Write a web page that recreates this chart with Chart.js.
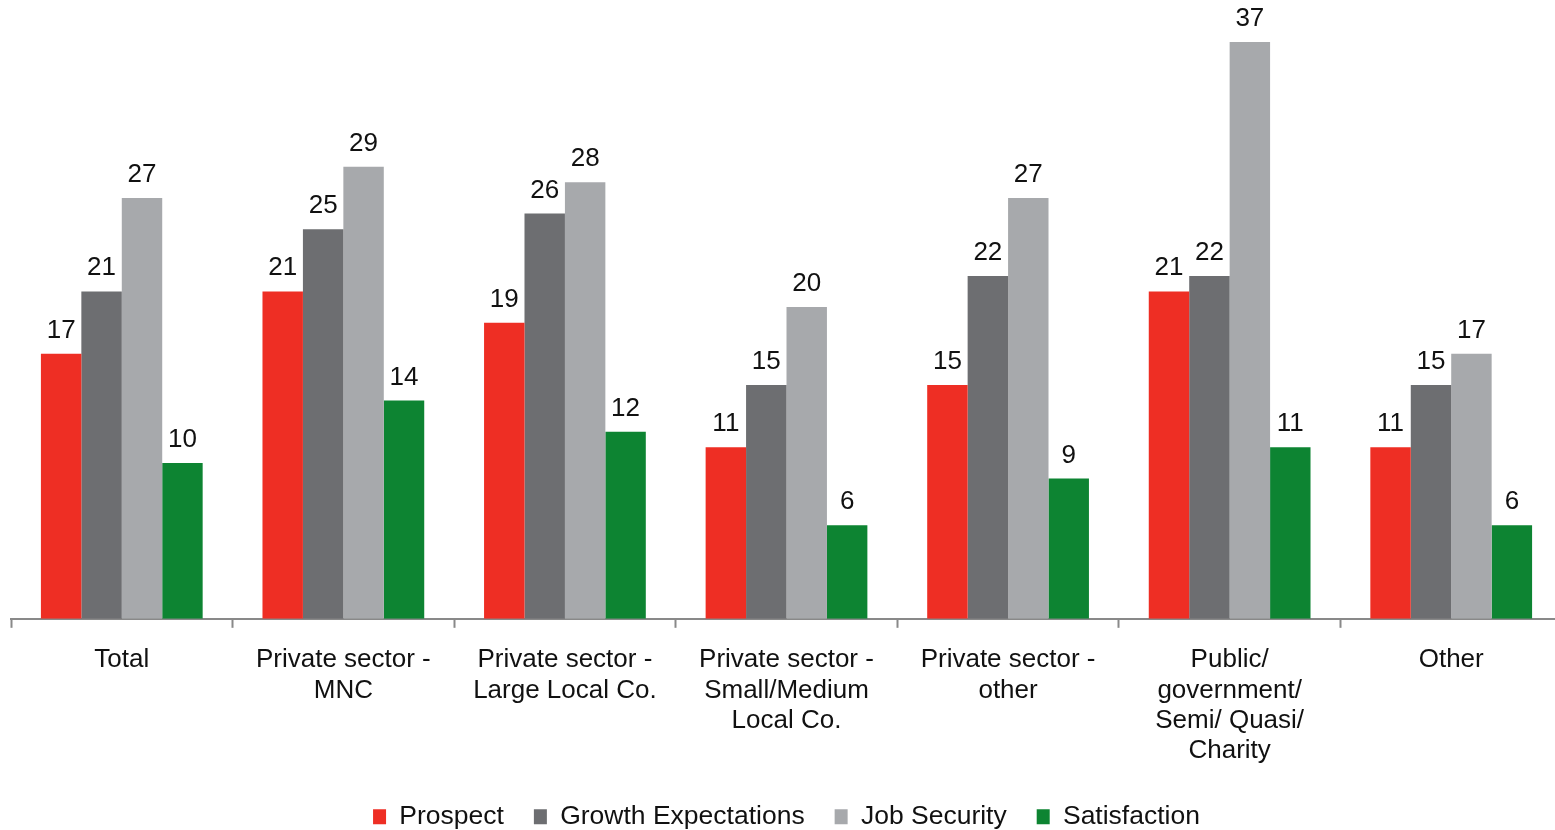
<!DOCTYPE html>
<html>
<head>
  <meta charset="utf-8">
  <title>Prospect by sector</title>
  <script src="https://cdn.jsdelivr.net/npm/chart.js@4.4.1/dist/chart.umd.min.js"></script>
  <style>
    html, body { margin: 0; padding: 0; background: #ffffff; overflow: hidden; }
    #wrap { position: relative; width: 1562px; height: 830px; }
  </style>
</head>
<body>
<div id="wrap"><canvas id="myChart"></canvas></div>
<script>
  // sector labels (split into lines the way they are printed under the axis)
  const categories = [
    ["Total"],
    ["Private sector -", "MNC"],
    ["Private sector -", "Large Local Co."],
    ["Private sector -", "Small/Medium", "Local Co."],
    ["Private sector -", "other"],
    ["Public/", "government/", "Semi/ Quasi/", "Charity"],
    ["Other"]
  ];

  const prospect   = [17, 21, 19, 11, 15, 21, 11];
  const growth     = [21, 25, 26, 15, 22, 22, 15];
  const jobSec     = [27, 29, 28, 20, 27, 37, 17];
  const satisfied  = [10, 14, 12, 6, 9, 11, 6];

  const seriesNames = ["Prospect", "Growth Expectations", "Job Security", "Satisfaction"];
  const seriesColors = ["#EE2E24", "#6D6E71", "#A7A9AC", "#0D8432"];

  const fontFamily = '"Liberation Sans", Arial, sans-serif';

  // values printed above every bar
  const valueLabels = {
    id: 'valueLabels',
    afterDatasetsDraw(chart) {
      const ctx = chart.ctx;
      ctx.save();
      ctx.font = '26px ' + fontFamily;
      ctx.fillStyle = '#111111';
      ctx.textAlign = 'center';
      ctx.textBaseline = 'alphabetic';
      chart.data.datasets.forEach((ds, i) => {
        chart.getDatasetMeta(i).data.forEach((bar, j) => {
          ctx.fillText(ds.data[j], bar.x, bar.y - 16);
        });
      });
      ctx.restore();
    }
  };

  const ctx = document.getElementById('myChart').getContext('2d');
  const myChart = new Chart(ctx, {
    type: 'bar',
    data: {
      labels: categories,
      datasets: [prospect, growth, jobSec, satisfied].map((d, i) => ({
        label: seriesNames[i],
        data: d,
        backgroundColor: seriesColors[i],
        borderWidth: 0,
        categoryPercentage: 0.73,
        barPercentage: 1.0
      }))
    },
    options: {
      responsive: true,
      maintainAspectRatio: false,
      animation: false,
      layout: { padding: { left: 11, right: 0, top: 0, bottom: -10 } },
      scales: {
        x: {
          offset: true,
          border: { display: true, color: '#898989', width: 2 },
          grid: {
            display: true,
            drawOnChartArea: false,
            drawTicks: true,
            tickLength: 9,
            tickWidth: 2,
            tickColor: '#898989',
            offset: true
          },
          ticks: {
            color: '#111111',
            padding: 17,
            maxRotation: 0,
            autoSkip: false,
            font: { family: fontFamily, size: 26, lineHeight: 1.17 }
          },
          afterFit(scale) { scale.height -= 10; }
        },
        y: {
          display: false,
          min: 0,
          max: 39.7
        }
      },
      plugins: {
        legend: {
          position: 'bottom',
          labels: {
            color: '#111111',
            boxWidth: 13,
            boxHeight: 15,
            padding: 30,
            font: { family: fontFamily, size: 26.5 }
          }
        },
        tooltip: { enabled: false }
      }
    },
    plugins: [valueLabels]
  });
</script>
</body>
</html>
